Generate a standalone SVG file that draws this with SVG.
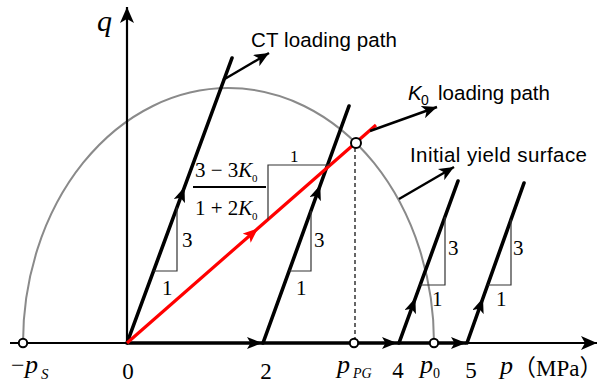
<svg xmlns="http://www.w3.org/2000/svg" width="603" height="387" viewBox="0 0 603 387">
<style>
.ax{stroke:#000;fill:none}
.ct{stroke:#000;stroke-width:3.6;fill:none;stroke-linecap:round}
.tri{stroke:#333;stroke-width:1.2;fill:none}
.ptr{stroke:#000;stroke-width:2.4;fill:none}
.m{font-family:"Liberation Serif","Times New Roman",serif;fill:#000}
.i{font-style:italic}
.s{font-family:"Liberation Sans",Arial,sans-serif;fill:#000}
.pt{fill:#fff;stroke:#000;stroke-width:2}
.cjk{font-family:"Liberation Serif","Noto Sans CJK SC",serif;font-style:normal}
</style>
<defs>
<marker id="big" viewBox="0 0 16 14" refX="16" refY="7" markerWidth="16" markerHeight="14" markerUnits="userSpaceOnUse" orient="auto"><path d="M0,0 L16,7 L0,14 L4,7 Z" fill="#000"/></marker>
<marker id="mid" viewBox="0 0 15 12" refX="15" refY="6" markerWidth="15" markerHeight="12" markerUnits="userSpaceOnUse" orient="auto"><path d="M0,0 L15,6 L0,12 L3.5,6 Z" fill="#000"/></marker>
<marker id="midr" viewBox="0 0 15 12" refX="15" refY="6" markerWidth="15" markerHeight="12" markerUnits="userSpaceOnUse" orient="auto"><path d="M0,0 L15,6 L0,12 L3.5,6 Z" fill="#f00"/></marker>
<marker id="ptr" viewBox="0 0 15 13" refX="15" refY="6.5" markerWidth="15" markerHeight="13" markerUnits="userSpaceOnUse" orient="auto"><path d="M0,0 L15,6.5 L0,13 L4,6.5 Z" fill="#000"/></marker>
</defs>

<g id="yield-surface">
<path d="M23,343 A205.5,255 0 0 1 434,343" fill="none" stroke="#8a8a8a" stroke-width="2"/>
</g>

<g id="axes">
<line class="ax" x1="127" y1="343" x2="127" y2="7" stroke-width="2.2" marker-end="url(#big)"/>
<line class="ax" x1="10" y1="343" x2="597" y2="343" stroke-width="2.2" marker-end="url(#big)"/>
<text class="m i" x="97" y="31" font-size="30">q</text>
</g>

<g id="connectors">
<path class="ax" stroke-width="3.6" d="M127,343 L262,343" marker-end="url(#mid)"/>
<path class="ax" stroke-width="3.6" d="M262,343 L397,343" marker-end="url(#mid)"/>
<path class="ax" stroke-width="3.6" d="M397,343 L466,343" marker-end="url(#mid)"/>
<path class="ct" d="M127,343 L184.5,187 L232,58" marker-mid="url(#mid)"/>
<path class="ct" d="M263,343 L320.3,185 L349,106" marker-mid="url(#mid)"/>
<path class="ct" d="M399,343 L415.4,298 L458,181" marker-mid="url(#mid)"/>
<path class="ct" d="M467,343 L483,298 L524,183" marker-mid="url(#mid)"/>
<path d="M127,343 L258,228.3 L376,125" fill="none" stroke="#f00" stroke-width="3.2" marker-mid="url(#midr)"/>
<line x1="355" y1="148" x2="355" y2="339" stroke="#000" stroke-width="1.2" stroke-dasharray="4,3"/>
<line class="ptr" x1="223" y1="80" x2="269" y2="53" marker-end="url(#ptr)"/>
<line class="ptr" x1="370" y1="131" x2="437" y2="107" marker-end="url(#ptr)"/>
<line class="ptr" x1="399" y1="199" x2="454" y2="167" marker-end="url(#ptr)"/>
</g>

<g id="slope-triangles">
<path class="tri" d="M177,207.3 L177,271 L153.5,271"/>
<path class="tri" d="M311,210.7 L311,271 L289.1,271"/>
<path class="tri" d="M445,216.7 L445,285 L420.1,285"/>
<path class="tri" d="M511,219.5 L511,285 L487.7,285"/>
<path class="tri" d="M268,219.6 L268,165 L330.3,165"/>
<g class="m" font-size="21">
<text x="182" y="247">3</text><text x="162" y="295">1</text>
<text x="314" y="247">3</text><text x="296" y="295">1</text>
<text x="448" y="255">3</text><text x="432" y="306">1</text>
<text x="513" y="255">3</text><text x="496" y="306">1</text>
<text x="290" y="162" font-size="17">1</text>
</g>
</g>

<g id="fraction">
<text class="m" x="195" y="177" font-size="21">3 − 3<tspan class="i">K</tspan></text>
<text class="m" x="252" y="182" font-size="11">0</text>
<line x1="193" y1="187" x2="266" y2="187" stroke="#000" stroke-width="2"/>
<text class="m" x="195" y="215" font-size="21">1 + 2<tspan class="i">K</tspan></text>
<text class="m" x="252" y="220" font-size="11">0</text>
</g>

<g id="points">
<circle class="pt" cx="23" cy="343" r="4.2"/>
<circle class="pt" cx="354" cy="343" r="4.2"/>
<circle class="pt" cx="434" cy="343" r="4.2"/>
<circle class="pt" cx="356" cy="143" r="5"/>
</g>

<g id="callouts">
<text class="s" x="251" y="47" font-size="20.5" textLength="146" lengthAdjust="spacing">CT loading path</text>
<text class="s" x="408" y="100" font-size="20.5" font-style="italic">K</text>
<text class="s" x="421" y="105" font-size="14">0</text>
<text class="s" x="438" y="100" font-size="20.5" textLength="112" lengthAdjust="spacing">loading path</text>
<text class="s" x="410" y="162" font-size="20.5" textLength="177" lengthAdjust="spacing">Initial yield surface</text>
</g>

<g id="axis-labels">
<text class="m" x="11" y="373" font-size="24">−</text>
<text class="m i" x="25" y="373" font-size="26">p</text>
<text class="m i" x="41" y="379" font-size="15">S</text>
<text class="m" x="128" y="379" font-size="23" text-anchor="middle">0</text>
<text class="m" x="266" y="379" font-size="23" text-anchor="middle">2</text>
<text class="m i" x="337" y="373" font-size="26">p</text>
<text class="m i" x="353" y="378" font-size="14">PG</text>
<text class="m" x="398" y="378" font-size="23" text-anchor="middle">4</text>
<text class="m i" x="420" y="373" font-size="26">p</text>
<text class="m" x="433" y="378" font-size="14">0</text>
<text class="m" x="471" y="378" font-size="23" text-anchor="middle">5</text>
<text class="m" x="500" y="374"><tspan class="i" font-size="26">p</tspan><tspan class="cjk" font-size="23" dy="2">（MPa）</tspan></text>
</g>
</svg>
